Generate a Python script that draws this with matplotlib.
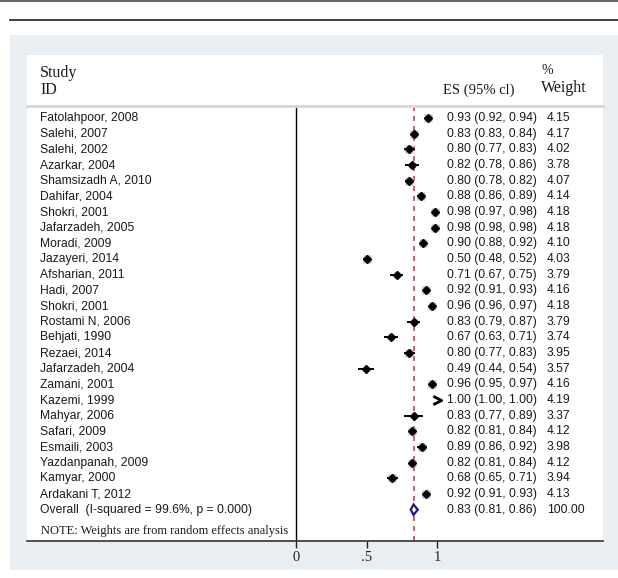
import matplotlib.pyplot as plt
from matplotlib.patches import Rectangle
from matplotlib.lines import Line2D
from matplotlib.path import Path
import numpy as np

studies = ['Fatolahpoor, 2008', 'Salehi, 2007', 'Salehi, 2002', 'Azarkar, 2004',
           'Shamsizadh A, 2010', 'Dahifar, 2004', 'Shokri, 2001', 'Jafarzadeh, 2005',
           'Moradi, 2009', 'Jazayeri, 2014', 'Afsharian, 2011', 'Hadi, 2007',
           'Shokri, 2001', 'Rostami N, 2006', 'Behjati, 1990', 'Rezaei, 2014',
           'Jafarzadeh, 2004', 'Zamani, 2001', 'Kazemi, 1999', 'Mahyar, 2006',
           'Safari, 2009', 'Esmaili, 2003', 'Yazdanpanah, 2009', 'Kamyar, 2000',
           'Ardakani T, 2012']
es = [0.93, 0.83, 0.80, 0.82, 0.80, 0.88, 0.98, 0.98, 0.90, 0.50, 0.71, 0.92, 0.96,
      0.83, 0.67, 0.80, 0.49, 0.96, 1.00, 0.83, 0.82, 0.89, 0.82, 0.68, 0.92]
lo = [0.92, 0.83, 0.77, 0.78, 0.78, 0.86, 0.97, 0.98, 0.88, 0.48, 0.67, 0.91, 0.96,
      0.79, 0.63, 0.77, 0.44, 0.95, 1.00, 0.77, 0.81, 0.86, 0.81, 0.65, 0.91]
hi = [0.94, 0.84, 0.83, 0.86, 0.82, 0.89, 0.98, 0.98, 0.92, 0.52, 0.75, 0.93, 0.97,
      0.87, 0.71, 0.83, 0.54, 0.97, 1.00, 0.89, 0.84, 0.92, 0.84, 0.71, 0.93]
weights = [4.15, 4.17, 4.02, 3.78, 4.07, 4.14, 4.18, 4.18, 4.10, 4.03, 3.79, 4.16, 4.18,
           3.79, 3.74, 3.95, 3.57, 4.16, 4.19, 3.37, 4.12, 3.98, 4.12, 3.94, 4.13]
overall_label = 'Overall  (I-squared = 99.6%, p = 0.000)'
overall = (0.83, 0.81, 0.86, 100.00)
xticks = [0, 0.5, 1]
xticklabels = ['0', '.5', '1']

W, H = 618, 578
def fx(px):
    return px / W
def fy(py):
    return 1 - py / H

sans = 'Liberation Sans'
serif = 'Liberation Serif'
txt_col = '#1a1a1a'
fs = 8.7

fig = plt.figure(figsize=(W / 100, H / 100), dpi=100)

# page decorations
fig.add_artist(Line2D([0, 1], [fy(0.5), fy(0.5)], color='#666666', lw=1.5))
fig.add_artist(Line2D([fx(10), 1], [fy(20), fy(20)], color='#333333', lw=1.3))
fig.patches.append(Rectangle((fx(10), fy(570)), 1 - fx(10), (570 - 35) / H,
                             transform=fig.transFigure, facecolor='#e8eef1',
                             edgecolor='none', zorder=-2))
fig.patches.append(Rectangle((fx(27), fy(541)), fx(603) - fx(27), (541 - 55) / H,
                             transform=fig.transFigure, facecolor='white',
                             edgecolor='none', zorder=-1))

# header
fig.text(fx(40), fy(73), 'Study', family=serif, fontsize=11.5, va='center', color=txt_col)
fig.text(fx(40), fy(90), 'ID', family=serif, fontsize=11.5, va='center', color=txt_col)
fig.text(fx(443), fy(90), 'ES (95% cl)', family=serif, fontsize=10.5, va='center', color=txt_col)
fig.text(fx(541), fy(70), '%', family=serif, fontsize=10, va='center', color=txt_col)
fig.text(fx(541), fy(88), 'Weight', family=serif, fontsize=11.5, va='center', color=txt_col)

# forest axes
x0, scale = 296.5, 141.0
row0, step = 118.0, 15.667
ax = fig.add_axes([fx(27), fy(541), fx(603) - fx(27), (541 - 106) / H])
ax.set_xlim((27 - x0) / scale, (603 - x0) / scale)
ax.set_ylim((541 - row0) / step, (106 - row0) / step)
ax.patch.set_alpha(0)

lab_x = (40 - x0) / scale
es_x = (447 - x0) / scale
w_x = (547 - x0) / scale

ax.axvline(0, color='black', lw=1, zorder=1)
ax.axvline(overall[0], color='#b5484f', lw=1.2, ls=(0, (3, 3)), zorder=1)

chevron = Path([(-1, 1), (1, 0), (-1, -1)], [Path.MOVETO, Path.LINETO, Path.LINETO])

for i, name in enumerate(studies):
    ax.text(lab_x, i, name, family=sans, fontsize=fs, va='center', color=txt_col)
    ax.text(es_x, i, '%.2f (%.2f, %.2f)' % (es[i], lo[i], hi[i]), family=sans,
            fontsize=fs, va='center', color=txt_col)
    ax.text(w_x, i, '%.2f' % weights[i], family=sans, fontsize=fs, va='center', color=txt_col)
    ms = 6.5 * (weights[i] / max(weights)) ** 4
    if lo[i] == hi[i] == es[i] == 1.0:
        ax.plot(es[i], i, marker=chevron, ms=6, mfc='none', mec='black', mew=2, zorder=3)
        continue
    ax.plot(es[i], i, marker='s', ms=ms, color='#c4c4c4', mec='none', zorder=2)
    ax.plot([lo[i], hi[i]], [i, i], color='black', lw=1.4, zorder=3)
    ax.plot(es[i], i, marker='D', ms=3.6, color='black', zorder=4)

yo = len(studies)
ax.text(lab_x, yo, overall_label, family=sans, fontsize=fs, va='center', color=txt_col)
ax.text(es_x, yo, '%.2f (%.2f, %.2f)' % overall[:3], family=sans, fontsize=fs,
        va='center', color=txt_col)
ax.text(w_x, yo, '%.2f' % overall[3], family=sans, fontsize=fs, va='center', color=txt_col)
dh = 0.33
ax.fill([overall[1], overall[0], overall[2], overall[0]], [yo, yo - dh, yo, yo + dh],
        facecolor='white', edgecolor='#1c1c7c', lw=1.6, zorder=4)

ax.text(lab_x + 0.01, yo + 1.35, 'NOTE: Weights are from random effects analysis',
        family=serif, fontsize=9, va='center', color=txt_col)

for s in ['left', 'right']:
    ax.spines[s].set_visible(False)
ax.spines['top'].set_color('#d6d6d6')
ax.spines['top'].set_linewidth(2)
ax.spines['bottom'].set_color('#333333')
ax.spines['bottom'].set_linewidth(1.2)
ax.set_yticks([])
ax.set_xticks(xticks)
ax.set_xticklabels(xticklabels, family=serif, fontsize=10.5)
ax.tick_params(axis='x', direction='out', length=5, width=1, pad=2, colors='#222222')

fig.savefig('out.png', dpi=100)
